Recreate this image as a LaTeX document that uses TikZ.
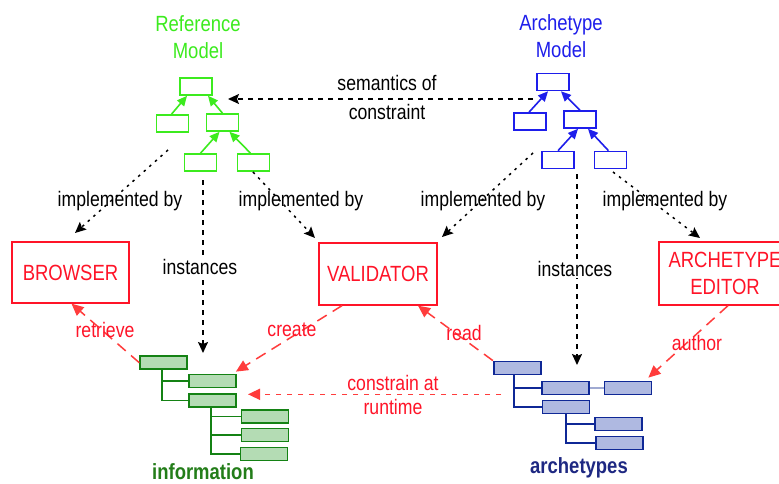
\documentclass[tikz,border=0pt]{standalone}
\usepackage{fontspec}
\setmainfont{Liberation Sans}[FakeStretch=0.84]
\usetikzlibrary{arrows.meta}
\definecolor{refgreen}{RGB}{60,235,30}
\definecolor{archblue}{RGB}{30,30,235}
\definecolor{toolred}{RGB}{255,20,40}
\definecolor{linkred}{RGB}{255,60,60}
\definecolor{infoline}{RGB}{20,130,20}
\definecolor{infofill}{RGB}{180,220,180}
\definecolor{infotext}{RGB}{35,125,25}
\definecolor{artline}{RGB}{15,40,150}
\definecolor{artfill}{RGB}{175,185,225}
\definecolor{artlink}{RGB}{160,170,210}
\definecolor{arttext}{RGB}{30,40,130}
\begin{document}
\begin{tikzpicture}[x=1pt,y=-1pt,
  txt/.style={font=\fontsize{21}{27}\selectfont, align=center, inner sep=1pt},
  title/.style={font=\fontsize{22}{27}\selectfont, align=center, inner sep=1pt},
  mbox/.style={draw, line width=1.6pt, minimum width=32pt, minimum height=17pt, inner sep=0pt},
  marrow/.style={line width=1.6pt, -{Triangle[length=10pt,width=9pt]}},
  tool/.style={draw=toolred, line width=1.3pt, text=toolred, align=center, inner sep=0pt,
    font=\fontsize{22}{27}\selectfont},
  impl/.style={line width=1.5pt, dash pattern=on 2.5pt off 5pt, -{Stealth[length=11pt,width=10pt,inset=2pt]}},
  inst/.style={line width=1.5pt, dash pattern=on 5pt off 5pt, -{Stealth[length=11pt,width=10pt,inset=2pt]}},
  rlink/.style={linkred, line width=1.5pt, dash pattern=on 11pt off 7pt, -{Triangle[length=12pt,width=11pt]}},
  ibox/.style={draw=infoline, fill=infofill, line width=1.8pt, minimum width=47pt, minimum height=13pt, inner sep=0pt},
  abox/.style={draw=artline, fill=artfill, line width=1.8pt, minimum width=47pt, minimum height=13pt, inner sep=0pt},
  iline/.style={infoline, line width=1.8pt},
  aline/.style={artline, line width=1.8pt},
  rtext/.style={txt, text=toolred},
]
\clip (0,0) rectangle (779,483);
\useasboundingbox (0,0) rectangle (779,483);
\fill[white] (0,0) rectangle (779,483);

% ---------- reference model ----------
\node[title, text=refgreen] (rmtitle) at (198,37) {Reference\\Model};
\node[mbox, draw=refgreen] (rtop) at (196,86.5) {};
\node[mbox, draw=refgreen] (rl)   at (172.5,123.5) {};
\node[mbox, draw=refgreen] (rr)   at (222.5,122.5) {};
\node[mbox, draw=refgreen] (rgl)  at (200.5,162.5) {};
\node[mbox, draw=refgreen] (rgr)  at (253.5,162.5) {};
\draw[marrow, refgreen] ([xshift=-1pt]rl.north) -- ([xshift=-9pt]rtop.south);
\draw[marrow, refgreen] (rr.north) -- ([xshift=12pt]rtop.south);
\draw[marrow, refgreen] (rgl.north) -- ([xshift=-3pt]rr.south);
\draw[marrow, refgreen] ([xshift=-3pt]rgr.north) -- ([xshift=7pt]rr.south);

% ---------- archetype model ----------
\node[title, text=archblue] (amtitle) at (561,36) {Archetype\\Model};
\node[mbox, draw=archblue] (atop) at (553,82) {};
\node[mbox, draw=archblue] (al)   at (530,121.5) {};
\node[mbox, draw=archblue] (ar)   at (580,119.5) {};
\node[mbox, draw=archblue] (agl)  at (558,160) {};
\node[mbox, draw=archblue] (agr)  at (610.5,160) {};
\draw[marrow, archblue] ([xshift=-1pt]al.north) -- ([xshift=-5pt]atop.south);
\draw[marrow, archblue] (ar.north) -- ([xshift=8pt]atop.south);
\draw[marrow, archblue] (agl.north) -- ([xshift=-2pt]ar.south);
\draw[marrow, archblue] ([xshift=-2pt]agr.north) -- ([xshift=8pt]ar.south);

% semantics of constraint
\coordinate (semR) at (533,99);
\coordinate (semL) at (228,99);
\draw[inst] (semR) -- (semL);
\node[txt] (sem1) at (387,83) {semantics of};
\node[txt] (sem2) at (387,112) {constraint};

% ---------- tools ----------
\node[tool, minimum width=117pt, minimum height=61pt] (browser) at (70.5,272.5) {BROWSER};
\node[tool, minimum width=118pt, minimum height=62pt] (validator) at (378,274) {VALIDATOR};
\node[tool, minimum width=132pt, minimum height=63pt] (editor) at (725,273.5) {ARCHETYPE\\EDITOR};

% implemented by
\coordinate (imp1s) at (168,150);  \coordinate (imp1e) at (75,233);
\coordinate (imp2s) at (253,172);  \coordinate (imp2e) at (315,238);
\coordinate (imp3s) at (533,153);  \coordinate (imp3e) at (442,237);
\coordinate (imp4s) at (613,172);  \coordinate (imp4e) at (700,238);
\draw[impl] (imp1s) -- (imp1e);
\draw[impl] (imp2s) -- (imp2e);
\draw[impl] (imp3s) -- (imp3e);
\draw[impl] (imp4s) -- (imp4e);
\node[txt] (impl1) at (120,201) {implemented by};
\node[txt] (impl2) at (301,201) {implemented by};
\node[txt] (impl3) at (483,201) {implemented by};
\node[txt] (impl4) at (665,201) {implemented by};

% ---------- information tree ----------
\node[ibox] (i1) at (163.7,362.7) {};
\node[ibox] (i2) at (212.5,381) {};
\node[ibox] (i3) at (212.5,400.5) {};
\node[ibox] (i4) at (265,416.5) {};
\node[ibox] (i5) at (265,435) {};
\node[ibox] (i6) at (264,454) {};
\draw[iline] ([xshift=-2pt]i1.south) |- (i2.west);
\draw[iline] ([xshift=-2pt]i1.south) |- (i3.west);
\draw[iline] ([xshift=-1.5pt]i3.south) |- (i4.west);
\draw[iline] ([xshift=-1.5pt]i3.south) |- (i5.west);
\draw[iline] ([xshift=-1.5pt]i3.south) |- (i6.west);
\node[font=\bfseries\fontsize{22}{27}\selectfont, text=infotext] (infolbl) at (203,472) {information};

% ---------- archetypes tree ----------
\node[abox] (a1)  at (517.3,368) {};
\node[abox] (a2)  at (565.5,388) {};
\node[abox] (a2b) at (628,388) {};
\node[abox] (a3)  at (566,407) {};
\node[abox] (a4)  at (618.7,424) {};
\node[abox] (a5)  at (619.7,443) {};
\draw[aline] ([xshift=-3pt]a1.south) |- (a2.west);
\draw[aline] ([xshift=-3pt]a1.south) |- (a3.west);
\draw[aline] (a3.south) |- (a4.west);
\draw[aline] (a3.south) |- (a5.west);
\draw[artlink, line width=1.8pt] (a2.east) -- (a2b.west);
\node[font=\bfseries\fontsize{22}{27}\selectfont, text=arttext] (artlbl) at (579,468) {archetypes};

% instances
\coordinate (ins1s) at (203,180);  \coordinate (ins1e) at (203,353);
\coordinate (ins2s) at (577,174);  \coordinate (ins2e) at (577,365);
\draw[inst] (ins1s) -- (ins1e);
\draw[inst] (ins2s) -- (ins2e);
\node[txt, fill=white] (insl1) at (200,267) {instances};
\node[txt, fill=white] (insl2) at (575,269) {instances};

% ---------- tool links ----------
\draw[rlink] (i1.west) -- ([xshift=1pt]browser.south);
\node[rtext] (retr) at (105,330) {retrieve};
\draw[rlink] ([xshift=-36pt]validator.south) -- ([xshift=-1pt,yshift=2pt]i2.north east);
\node[rtext] (crea) at (292,330) {create};
\draw[rlink] (a1.north west) -- ([xshift=40pt]validator.south);
\node[rtext] (read) at (464,333) {read};
\draw[rlink] ([xshift=3pt]editor.south) -- ([xshift=-4pt,yshift=3pt]a2b.north east);
\node[rtext] (auth) at (697,343) {author};
\coordinate (conR) at (501,394.3);
\coordinate (conL) at (248,394.3);
\draw[rlink, dash pattern=on 5pt off 6pt] (conR) -- (conL);
\node[rtext] (con1) at (393,383) {constrain at};
\node[rtext] (con2) at (393,407) {runtime};
\end{tikzpicture}
\end{document}
